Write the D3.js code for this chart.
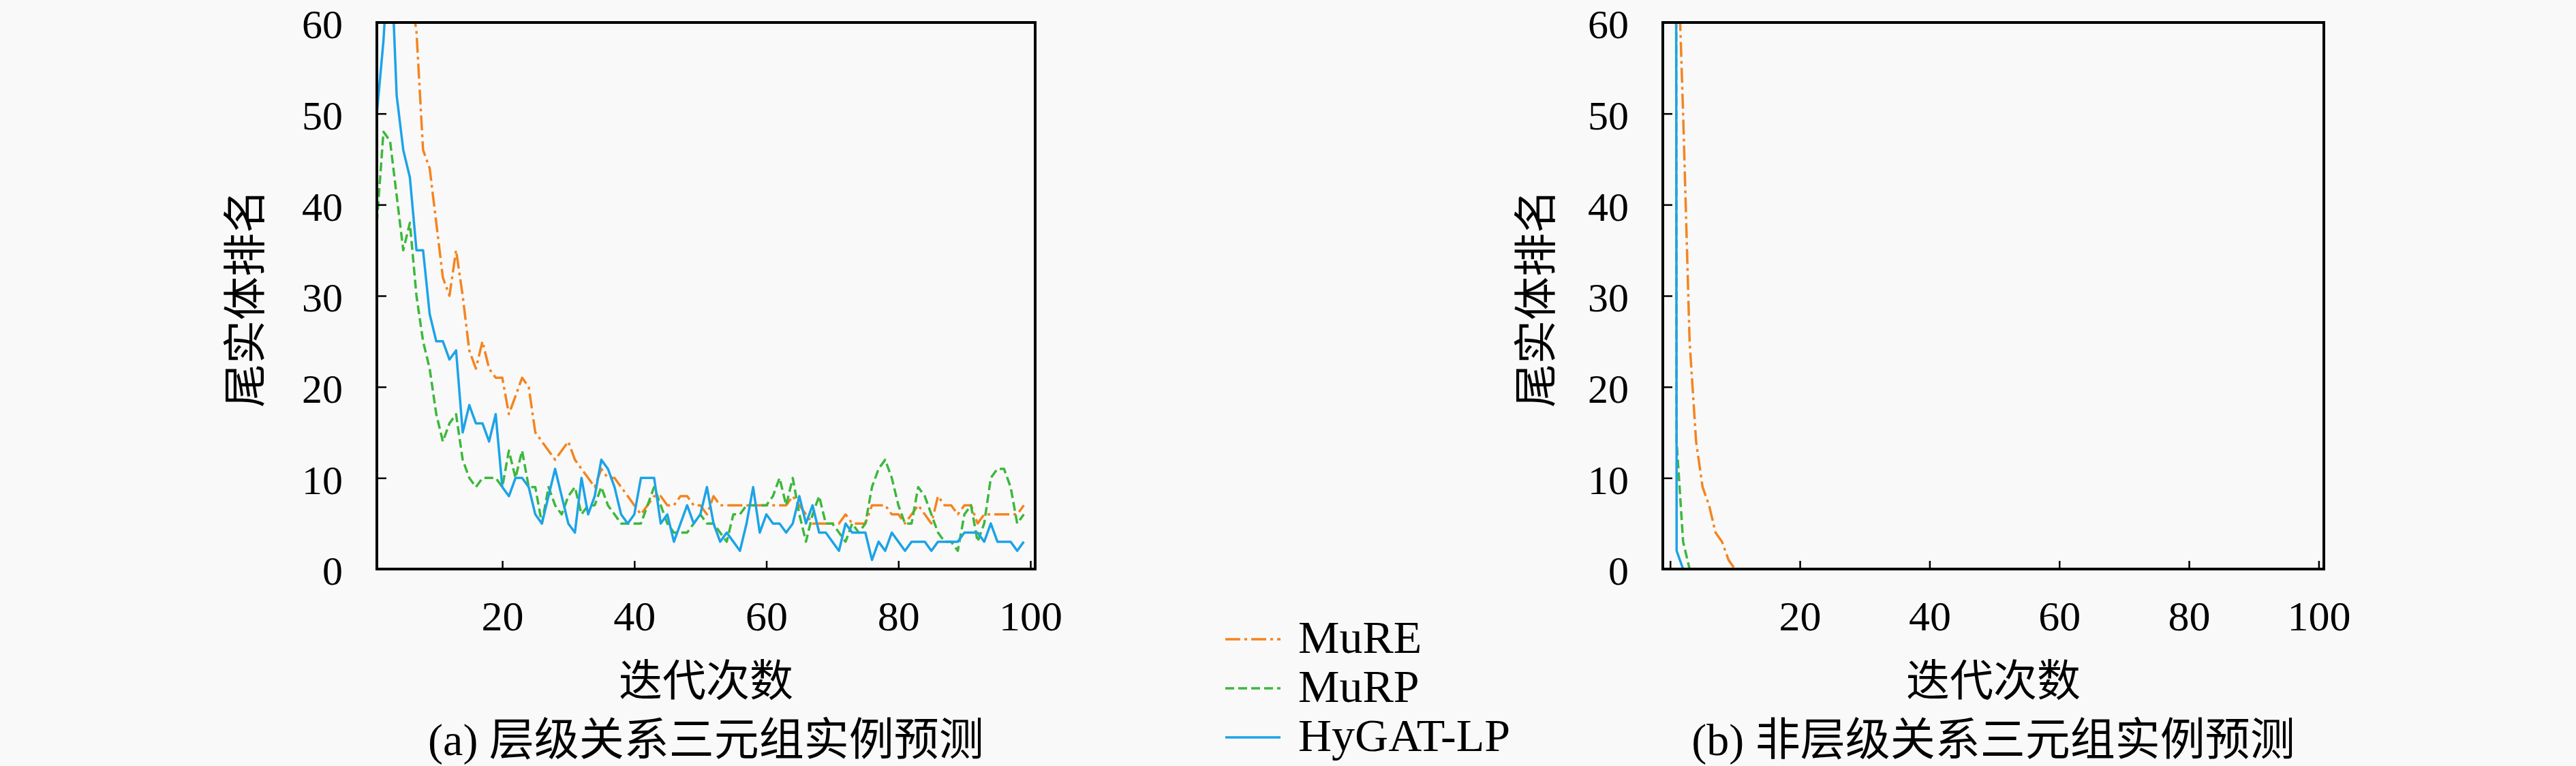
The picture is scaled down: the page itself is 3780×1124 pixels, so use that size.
<!DOCTYPE html>
<html lang="zh">
<head>
    <meta charset="UTF-8">
    <title>尾实体排名</title>
    <script src="https://d3js.org/d3.v7.min.js"></script>
    <style>
        body { margin: 0; background: #f9f9f9; }
        svg { display: block; }
        text { font-family: "Liberation Serif", "Noto Sans CJK SC", serif; fill: #000; }
        .cjk { font-family: "Liberation Serif", "Noto Sans CJK SC", sans-serif; }
        .tick line { stroke: #000; stroke-width: 2.5px; }
        .series { fill: none; stroke-width: 3.5px; stroke-linejoin: round; }
    </style>
</head>
<body>
<script>
    // 图例 / 系列名
    const seriesNames = ["MuRE", "MuRP", "HyGAT-LP"];
    const seriesColors = ["#f5841f", "#3cb83c", "#1ca3e8"];
    const seriesDash = ["22 6 4 6", "13 6", null];

    const yTicks = [0, 10, 20, 30, 40, 50, 60];
    const xTicksA = [20, 40, 60, 80, 100];
    const xTicksB = [0, 20, 40, 60, 80, 100];

    // (a) 层级关系 — iteration 1..99
    const mureA = [95, 88, 80, 74, 68, 64, 59, 46, 44, 38, 32, 30, 35, 30, 24, 22, 25, 22, 21, 21,
                   17, 19, 21, 20, 15, 14, 13, 12, 13, 14, 12, 11, 10, 9, 11, 10, 10, 9, 8, 7,
                   6, 7, 8, 8, 7, 7, 8, 8, 7, 7, 6, 8, 7, 7, 7, 7, 7, 7, 7, 7,
                   7, 7, 7, 8, 7, 6, 5, 5, 5, 5, 5, 6, 5, 5, 5, 7, 7, 7, 6, 6,
                   5, 6, 7, 6, 5, 8, 7, 7, 6, 7, 7, 5, 6, 6, 6, 6, 6, 6, 7];
    const murpA = [38, 48, 47, 41, 35, 38, 30, 25, 22, 17, 14, 16, 17, 12, 10, 9, 10, 10, 10, 9,
                   13, 10, 13, 9, 9, 5, 9, 7, 6, 8, 9, 6, 7, 7, 9, 7, 6, 5, 5, 5,
                   5, 7, 9, 7, 5, 4, 4, 4, 5, 6, 5, 5, 4, 3, 6, 6, 7, 7, 7, 7,
                   8, 10, 7, 10, 6, 3, 6, 8, 5, 5, 4, 3, 5, 4, 5, 9, 11, 12, 10, 7,
                   5, 5, 9, 8, 6, 4, 3, 3, 2, 6, 7, 3, 5, 10, 11, 11, 9, 5, 6];
    const hygatA = [50, 58, 70, 52, 46, 43, 35, 35, 28, 25, 25, 23, 24, 15, 18, 16, 16, 14, 17, 9,
                    8, 10, 10, 9, 6, 5, 8, 11, 8, 5, 4, 10, 6, 8, 12, 11, 9, 6, 5, 6,
                    10, 10, 10, 5, 6, 3, 5, 7, 5, 6, 9, 5, 3, 4, 3, 2, 5, 9, 4, 6,
                    5, 5, 4, 5, 8, 5, 7, 4, 4, 3, 2, 5, 4, 4, 4, 1, 3, 2, 4, 3,
                    2, 3, 3, 3, 2, 3, 3, 3, 3, 4, 4, 4, 3, 5, 3, 3, 3, 2, 3];

    // (b) 非层级关系 — iteration 0..100
    const mureB = [200, 72, 50, 25, 14, 9, 7, 4, 3, 1, 0, 0, 0, 0, 0, 0, 0, 0, 0, 0,
                   0, 0, 0, 0, 0, 0, 0, 0, 0, 0, 0, 0, 0, 0, 0, 0, 0, 0, 0, 0,
                   0, 0, 0, 0, 0, 0, 0, 0, 0, 0, 0, 0, 0, 0, 0, 0, 0, 0, 0, 0,
                   0, 0, 0, 0, 0, 0, 0, 0, 0, 0, 0, 0, 0, 0, 0, 0, 0, 0, 0, 0,
                   0, 0, 0, 0, 0, 0, 0, 0, 0, 0, 0, 0, 0, 0, 0, 0, 0, 0, 0, 0, 0];
    const murpB = [700, 14, 3, 0, 0, 0, 0, 0, 0, 0, 0, 0, 0, 0, 0, 0, 0, 0, 0, 0,
                   0, 0, 0, 0, 0, 0, 0, 0, 0, 0, 0, 0, 0, 0, 0, 0, 0, 0, 0, 0,
                   0, 0, 0, 0, 0, 0, 0, 0, 0, 0, 0, 0, 0, 0, 0, 0, 0, 0, 0, 0,
                   0, 0, 0, 0, 0, 0, 0, 0, 0, 0, 0, 0, 0, 0, 0, 0, 0, 0, 0, 0,
                   0, 0, 0, 0, 0, 0, 0, 0, 0, 0, 0, 0, 0, 0, 0, 0, 0, 0, 0, 0, 0];
    const hygatB = [900, 2, 0, 0, 0, 0, 0, 0, 0, 0, 0, 0, 0, 0, 0, 0, 0, 0, 0, 0,
                    0, 0, 0, 0, 0, 0, 0, 0, 0, 0, 0, 0, 0, 0, 0, 0, 0, 0, 0, 0,
                    0, 0, 0, 0, 0, 0, 0, 0, 0, 0, 0, 0, 0, 0, 0, 0, 0, 0, 0, 0,
                    0, 0, 0, 0, 0, 0, 0, 0, 0, 0, 0, 0, 0, 0, 0, 0, 0, 0, 0, 0,
                    0, 0, 0, 0, 0, 0, 0, 0, 0, 0, 0, 0, 0, 0, 0, 0, 0, 0, 0, 0, 0];

    const W = 3780, H = 1124;
    const FS = 64;      // labels
    const TFS = 60;     // tick labels

    const svg = d3.select("body").append("svg")
        .attr("width", W)
        .attr("height", H);

    svg.append("rect").attr("width", W).attr("height", H).attr("fill", "#f9f9f9");

    function drawPanel(p) {
        const x = d3.scaleLinear().domain(p.xDomain).range([p.left, p.right]);
        const y = d3.scaleLinear().domain([0, 60]).range([p.bottom, p.top]);

        const clipId = "clip-" + p.id;
        svg.append("clipPath").attr("id", clipId)
            .append("rect")
            .attr("x", p.left).attr("y", p.top)
            .attr("width", p.right - p.left).attr("height", p.bottom - p.top);

        const line = d3.line()
            .x((d, i) => x(p.xStart + i))
            .y(d => y(d));

        const g = svg.append("g").attr("clip-path", `url(#${clipId})`);
        p.series.forEach((vals, k) => {
            g.append("path")
                .datum(vals)
                .attr("class", "series")
                .attr("stroke", seriesColors[k])
                .attr("stroke-dasharray", seriesDash[k])
                .attr("d", line);
        });

        // axes, ticks pointing inward
        const yAxis = d3.axisLeft(y).tickValues(yTicks).tickSize(-14).tickPadding(50)
            .tickFormat(d3.format("d"));
        svg.append("g")
            .attr("transform", `translate(${p.left},0)`)
            .call(yAxis)
            .call(s => s.select(".domain").remove())
            .selectAll("text")
            .attr("dy", "0.38em")
            .attr("font-size", TFS)
            .attr("font-family", "Liberation Serif");

        const xAxis = d3.axisBottom(x).tickValues(p.xTicks).tickSize(-12).tickPadding(46)
            .tickFormat(d => d === 0 ? "" : d);
        svg.append("g")
            .attr("transform", `translate(0,${p.bottom})`)
            .call(xAxis)
            .call(s => s.select(".domain").remove())
            .selectAll("text")
            .attr("font-size", TFS + 2)
            .attr("font-family", "Liberation Serif");

        svg.append("rect")
            .attr("x", p.left).attr("y", p.top)
            .attr("width", p.right - p.left).attr("height", p.bottom - p.top)
            .attr("fill", "none").attr("stroke", "#000").attr("stroke-width", 4);

        const cx = (p.left + p.right) / 2;
        svg.append("text")
            .attr("class", "cjk")
            .attr("transform", `translate(${p.ylabelX},${(p.top + p.bottom) / 2 + 4}) rotate(-90)`)
            .attr("text-anchor", "middle")
            .attr("dominant-baseline", "central")
            .attr("font-size", FS)
            .text("尾实体排名");

        svg.append("text")
            .attr("class", "cjk")
            .attr("x", cx).attr("y", 1021)
            .attr("text-anchor", "middle")
            .attr("font-size", FS)
            .text("迭代次数");

        svg.append("text")
            .attr("class", "cjk")
            .attr("x", cx).attr("y", 1108)
            .attr("text-anchor", "middle")
            .attr("font-size", FS + 2)
            .text(p.caption);
    }

    drawPanel({
        id: "a", left: 553, right: 1519, top: 33, bottom: 835,
        xDomain: [1, 100.72], xTicks: xTicksA, xStart: 1,
        series: [mureA, murpA, hygatA], ylabelX: 360,
        caption: "(a) 层级关系三元组实例预测"
    });

    drawPanel({
        id: "b", left: 2440, right: 3410, top: 33, bottom: 835,
        xDomain: [-1.13, 100.8], xTicks: xTicksB, xStart: 0,
        series: [mureB, murpB, hygatB], ylabelX: 2254,
        caption: "(b) 非层级关系三元组实例预测"
    });

    // legend
    const legend = svg.append("g").attr("transform", "translate(1798,938)");
    seriesNames.forEach((name, k) => {
        const row = legend.append("g").attr("transform", `translate(0,${k * 72})`);
        row.append("line")
            .attr("x1", 0).attr("x2", 81)
            .attr("stroke", seriesColors[k])
            .attr("stroke-width", 3.5)
            .attr("stroke-dasharray", seriesDash[k]);
        row.append("text")
            .attr("x", 107).attr("y", 20)
            .attr("font-size", FS + 4)
            .text(name);
    });
</script>
</body>
</html>
